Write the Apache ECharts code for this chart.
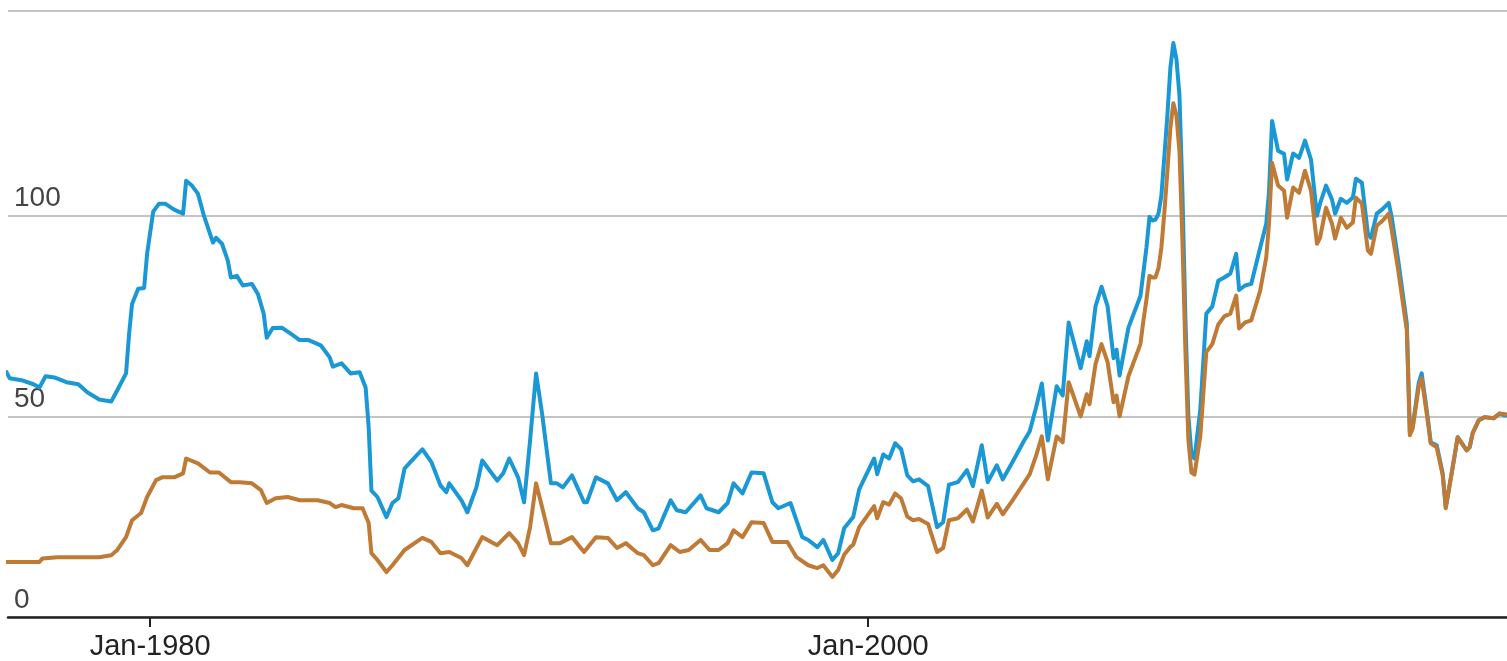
<!DOCTYPE html>
<html>
<head>
<meta charset="utf-8">
<script src="https://cdn.jsdelivr.net/npm/echarts@6/dist/echarts.min.js"></script>
<style>
html,body{margin:0;padding:0;background:#fff;}
#chart{width:1507px;height:661px;}
</style>
</head>
<body>
<div id="chart"></div>
<script>
// Real price (blue)
const realDates = ['1976-01','1976-02','1976-06','1976-10','1976-12','1977-02','1977-05','1977-09','1978-01','1978-04','1978-08','1978-12','1979-02','1979-05','1979-06','1979-07','1979-09','1979-11','1979-12','1980-02','1980-04','1980-06','1980-09','1980-12','1981-01','1981-03','1981-05','1981-07','1981-10','1981-11','1982-01','1982-03','1982-04','1982-06','1982-08','1982-11','1983-01','1983-03','1983-04','1983-06','1983-09','1983-12','1984-03','1984-06','1984-10','1985-01','1985-02','1985-05','1985-08','1985-11','1986-01','1986-02','1986-03','1986-05','1986-08','1986-10','1986-12','1987-02','1987-04','1987-08','1987-11','1988-02','1988-04','1988-05','1988-09','1988-11','1989-02','1989-04','1989-07','1989-09','1989-11','1990-01','1990-04','1990-06','1990-08','1990-10','1990-12','1991-03','1991-05','1991-07','1991-10','1992-02','1992-03','1992-06','1992-10','1993-01','1993-04','1993-08','1993-10','1994-01','1994-03','1994-07','1994-09','1994-12','1995-05','1995-07','1995-11','1996-02','1996-04','1996-07','1996-10','1997-02','1997-05','1997-07','1997-11','1998-03','1998-05','1998-08','1998-10','1999-01','1999-03','1999-05','1999-08','1999-10','2000-03','2000-04','2000-06','2000-08','2000-10','2000-12','2001-02','2001-04','2001-06','2001-09','2001-12','2002-02','2002-04','2002-07','2002-10','2002-12','2003-03','2003-05','2003-08','2003-10','2004-01','2004-05','2004-07','2004-09','2004-11','2005-01','2005-04','2005-06','2005-08','2005-12','2006-02','2006-03','2006-05','2006-07','2006-09','2006-11','2006-12','2007-01','2007-04','2007-08','2007-09','2007-10','2007-11','2007-12','2008-01','2008-02','2008-03','2008-04','2008-05','2008-06','2008-07','2008-08','2008-09','2008-10','2008-11','2008-12','2009-01','2009-02','2009-04','2009-06','2009-08','2009-10','2009-12','2010-02','2010-04','2010-05','2010-07','2010-09','2010-12','2011-02','2011-03','2011-04','2011-06','2011-08','2011-09','2011-11','2012-01','2012-03','2012-05','2012-07','2012-08','2012-10','2012-12','2013-01','2013-03','2013-05','2013-07','2013-08','2013-10','2013-12','2014-01','2014-03','2014-05','2014-07','2014-08','2014-10','2015-01','2015-02','2015-03','2015-05','2015-06','2015-08','2015-09','2015-11','2016-01','2016-02','2016-04','2016-06','2016-09','2016-10','2016-11','2017-01','2017-03','2017-06','2017-08','2017-10'];
const realValues = [61,59.5,59,58,57.2,60,59.7,58.5,58,56,54.2,53.7,56.5,60.7,70.6,78,81.8,82,90.5,101,103,103,101.5,100.5,108.7,107.5,105.5,100,93.3,94.5,93,88.8,84.6,85,82.6,83,80.5,75.6,69.6,72,72.1,70.6,69,69,67.7,64.7,62.4,63.2,60.7,61,57.2,47.3,31.5,29.9,24.9,28.4,29.6,37,38.6,41.8,38.6,32.8,31.1,33.3,29.1,26.1,32.3,39,36,34,35.8,39.5,34.8,28.6,44,60.7,50.7,33.3,33.3,32.3,35.3,28.6,28.6,34.8,33.3,29.1,31.1,27.1,26.1,21.6,22.1,29.1,26.6,26.1,30.3,27.1,26.1,28.4,33.3,30.8,36,35.8,28.6,27.1,28.4,19.9,19.2,17.4,19.2,14.2,15.9,22.1,24.9,31.8,39.5,35.6,40.5,39.5,43.3,41.8,35.3,33.8,34.3,32.6,22.4,23.6,33,33.6,36.6,32.6,42.8,33.6,37.8,34.3,38.3,43.8,46.3,52,58.2,44,57.5,55.2,73.4,62,68.7,65,77.4,82.3,77.4,64.5,66.6,60.2,72.1,80,86,92,99.7,98.8,99,100.5,105,115,125,137,143,139,130,106,74,50,40.5,39.5,51.7,75.6,77.4,83.8,84.6,85.6,90.5,81.5,82.6,83,92,98,106,123.6,116.2,115.4,109,115.5,114.4,118.7,114,100,103,107.5,104,100.5,104.2,103.2,104.5,109.2,108.2,95.5,94.5,100.5,101.7,103.2,99.5,89.6,73.1,45.8,47.3,58.2,60.7,49.8,43.5,42.8,35.8,27.4,35.8,44.8,41.5,42.3,45.8,49,49.8,49.5,50.7,50.2];

// Nominal price (brown)
const nominalDates = ['1976-01','1976-06','1976-12','1977-01','1977-06','1977-09','1978-01','1978-04','1978-08','1978-12','1979-02','1979-05','1979-07','1979-10','1979-12','1980-03','1980-05','1980-09','1980-12','1981-01','1981-05','1981-09','1981-12','1982-04','1982-07','1982-11','1983-02','1983-04','1983-07','1983-11','1984-03','1984-09','1985-01','1985-03','1985-05','1985-09','1985-12','1986-02','1986-03','1986-05','1986-08','1986-10','1987-02','1987-08','1987-11','1988-02','1988-05','1988-09','1988-11','1989-02','1989-04','1989-09','1990-01','1990-04','1990-06','1990-08','1990-10','1990-12','1991-03','1991-06','1991-10','1992-02','1992-06','1992-10','1993-01','1993-04','1993-08','1993-10','1994-01','1994-03','1994-07','1994-10','1995-01','1995-05','1995-08','1995-11','1996-02','1996-04','1996-07','1996-10','1997-02','1997-05','1997-10','1998-01','1998-05','1998-08','1998-10','1999-01','1999-03','1999-05','1999-07','1999-08','1999-10','2000-03','2000-04','2000-06','2000-08','2000-10','2000-12','2001-02','2001-04','2001-06','2001-09','2001-12','2002-02','2002-04','2002-07','2002-10','2002-12','2003-03','2003-05','2003-08','2003-10','2004-01','2004-05','2004-07','2004-09','2004-11','2005-01','2005-04','2005-06','2005-08','2005-12','2006-02','2006-03','2006-05','2006-07','2006-09','2006-11','2006-12','2007-01','2007-04','2007-08','2007-09','2007-10','2007-11','2007-12','2008-01','2008-02','2008-03','2008-04','2008-05','2008-06','2008-07','2008-08','2008-09','2008-10','2008-11','2008-12','2009-01','2009-02','2009-04','2009-06','2009-08','2009-10','2009-12','2010-02','2010-04','2010-05','2010-07','2010-09','2010-12','2011-02','2011-03','2011-04','2011-06','2011-08','2011-09','2011-11','2012-01','2012-03','2012-05','2012-07','2012-08','2012-10','2012-12','2013-01','2013-03','2013-05','2013-07','2013-08','2013-10','2013-12','2014-01','2014-03','2014-05','2014-07','2014-08','2014-10','2015-01','2015-02','2015-03','2015-05','2015-06','2015-08','2015-09','2015-11','2016-01','2016-02','2016-04','2016-06','2016-09','2016-10','2016-11','2017-01','2017-03','2017-06','2017-08','2017-10'];
const nominalValues = [13.7,13.7,13.7,14.6,14.9,14.9,14.9,14.9,14.9,15.4,16.7,19.9,24.1,25.9,29.9,34.1,34.8,34.8,35.8,39.5,38.3,36,36,33.6,33.6,33.3,31.6,28.4,29.6,29.9,29.1,29.1,28.4,27.4,27.9,27.1,27.1,23.4,15.9,14.2,11.2,12.9,16.7,19.7,18.7,15.9,16.2,14.7,12.9,17.2,19.9,17.9,20.9,18.4,15.4,22.4,33.3,27.4,18.4,18.4,19.9,16.2,19.9,19.7,17.2,18.4,15.9,15.4,12.9,13.4,17.9,16.2,16.7,19.2,16.7,16.7,18.4,21.6,19.9,23.6,23.4,18.7,18.7,14.9,12.9,12.2,12.9,10,11.7,15.5,17.4,18,22.4,27.6,24.6,28.6,28,30.8,29.5,25,24.1,24.4,23.2,16.2,17.2,24.1,24.6,26.8,23.8,31.5,24.8,28.2,25.6,28.8,33.3,35.6,40,45,34.3,45,43.5,58.5,50,55.5,53,63,68,63.5,53.5,55.2,50,60,68,74,79,85,84.6,84.6,87,92,101,111,122,128,125,116,94,66,44,36,35.5,45,66,68,72.9,74.9,75.6,80.1,71.9,73.4,73.9,81.3,89.6,98,113.2,107.5,106.2,99.5,107,105.7,111.2,106.2,93,94.5,102,98,94.3,99.5,97,98.3,104.5,103,91.3,90.5,97.5,98.8,100.5,96.3,87.1,71.4,45.3,47,57.2,59.5,49,43.3,42.3,35.3,27.1,35.8,44.8,41.5,42.3,45.8,49,49.8,49.5,50.7,50.5];

const xTickYears = [1980, 2000];
const yTicks = [0, 50, 100];

function toTime(s) {
  const p = s.split('-');
  return new Date(+p[0], +p[1] - 1, 1).getTime();
}
const realData = realDates.map((d, i) => [toTime(d), realValues[i]]);
const nominalData = nominalDates.map((d, i) => [toTime(d), nominalValues[i]]);
const xTickValues = xTickYears.map(y => new Date(y, 0, 1).getTime());

const chart = echarts.init(document.getElementById('chart'), null, {renderer: 'canvas'});
chart.setOption({
  animation: false,
  backgroundColor: '#ffffff',
  grid: {left: 8, right: 0, top: 11, bottom: 44, containLabel: false},
  xAxis: {
    type: 'value',
    min: new Date(1976, 0, 16).getTime(),
    max: new Date(2017, 9, 16).getTime(),
    axisLine: {show: true, onZero: false, lineStyle: {color: '#222', width: 2.5}},
    axisTick: {show: true, customValues: xTickValues, length: 10, lineStyle: {color: '#222', width: 2}},
    axisLabel: {
      customValues: xTickValues,
      margin: 15,
      fontFamily: 'Liberation Sans, Arial, sans-serif',
      fontSize: 29,
      color: '#222',
      formatter: v => 'Jan-' + new Date(v).getFullYear()
    },
    splitLine: {show: false}
  },
  yAxis: {
    type: 'value',
    min: 0,
    max: 151,
    interval: 50,
    axisLine: {show: false},
    axisTick: {show: false},
    axisLabel: {
      inside: true,
      margin: 6,
      align: 'left',
      verticalAlign: 'bottom',
      padding: [0, 0, 3, 0],
      fontFamily: 'Liberation Sans, Arial, sans-serif',
      fontSize: 28,
      color: '#444',
      formatter: v => (yTicks.indexOf(v) >= 0 ? String(v) : '')
    },
    splitLine: {show: true, lineStyle: {color: ['#c4c4c4', '#c4c4c4', '#c4c4c4', 'rgba(0,0,0,0)', '#c4c4c4'], width: 2}}
  },
  series: [
    {
      name: 'Real', type: 'line', data: realData, showSymbol: false, symbol: 'none',
      lineStyle: {color: '#1a98d5', width: 4, join: 'round', cap: 'round'}, z: 2
    },
    {
      name: 'Nominal', type: 'line', data: nominalData, showSymbol: false, symbol: 'none',
      lineStyle: {color: '#bf7a36', width: 4, join: 'round', cap: 'round'}, z: 3
    }
  ]
});
</script>
</body>
</html>
